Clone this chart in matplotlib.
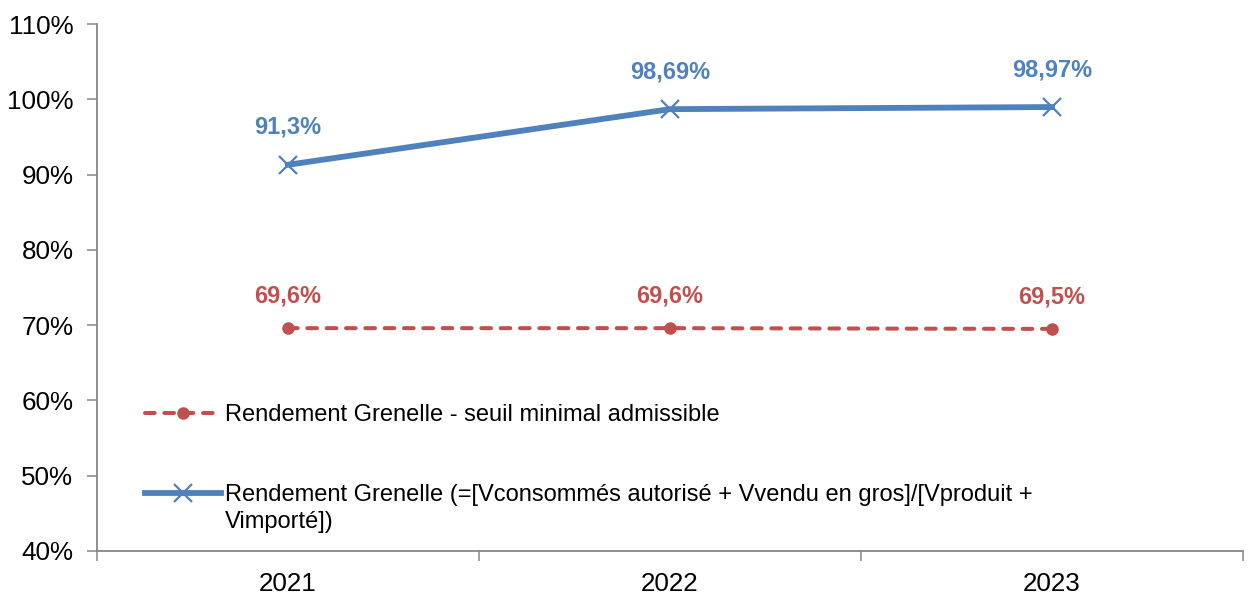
import matplotlib
matplotlib.use("Agg")
import matplotlib.pyplot as plt
from matplotlib.ticker import FixedLocator, FuncFormatter

years = ["2021", "2022", "2023"]
rendement = [91.3, 98.69, 98.97]
seuil = [69.6, 69.6, 69.5]
rendement_labels = ["91,3%", "98,69%", "98,97%"]
seuil_labels = ["69,6%", "69,6%", "69,5%"]
y_ticks = [40, 50, 60, 70, 80, 90, 100, 110]
legend_seuil = "Rendement Grenelle - seuil minimal admissible"
legend_rendement = ["Rendement Grenelle (=[Vconsommés autorisé + Vvendu en gros]/[Vproduit +",
                    "Vimporté])"]

BLUE = "#4F81BD"
RED = "#C0504D"
GREY = "#868686"

plt.rcParams["font.family"] = ["Liberation Sans", "DejaVu Sans"]

W, H = 1251, 595
fig = plt.figure(figsize=(W / 100, H / 100), dpi=100)
ax = fig.add_axes([97 / W, 44 / H, (1243 - 97) / W, (551 - 24) / H])

x = list(range(len(years)))
ax.plot(x, seuil, color=RED, lw=2.9, ls=(0, (2.4, 2.4)), dash_capstyle="round",
        marker="o", ms=8, label=legend_seuil)
ax.plot(x, rendement, color=BLUE, lw=4.2, marker="x", ms=13, mew=1.6,
        label=legend_rendement[0])

for xi, v, t in zip(x, rendement, rendement_labels):
    ax.annotate(t, (xi, v), xytext=(0, 27), textcoords="offset points",
                ha="center", va="center", color=BLUE, fontsize=17, fontweight="bold")
for xi, v, t in zip(x, seuil, seuil_labels):
    ax.annotate(t, (xi, v), xytext=(0, 23), textcoords="offset points",
                ha="center", va="center", color=RED, fontsize=17, fontweight="bold")

ax.set_xlim(-0.5, len(years) - 0.5)
ax.set_ylim(y_ticks[0], y_ticks[-1])
ax.set_xticks(x)
ax.set_xticklabels(years)
ax.xaxis.set_minor_locator(FixedLocator([i - 0.5 for i in range(len(years) + 1)]))
ax.set_yticks(y_ticks)
ax.yaxis.set_major_formatter(FuncFormatter(lambda v, p: f"{v:.0f}%"))

ax.tick_params(axis="x", which="major", length=0, pad=15, labelsize=18.7)
ax.tick_params(axis="x", which="minor", length=7, width=1.1, color=GREY, direction="out")
ax.tick_params(axis="y", length=7, width=1.1, color=GREY, pad=10, labelsize=18.7)

for side in ["top", "right"]:
    ax.spines[side].set_visible(False)
for side in ["left", "bottom"]:
    ax.spines[side].set_color(GREY)
    ax.spines[side].set_linewidth(1.3)

leg = ax.legend(loc="upper left", bbox_to_anchor=(0.042, 0.279), frameon=False, fontsize=17,
                handlelength=3.2, handletextpad=0.17, labelspacing=2.45, borderpad=0,
                borderaxespad=0)
# second line of the long label, kept under the first so the marker stays on line one
ax.annotate(legend_rendement[1], xy=(0, 0.5), xycoords=leg.get_texts()[1],
            xytext=(0, -19.4), textcoords="offset points", ha="left", va="center",
            fontsize=17, zorder=6, annotation_clip=False)

fig.savefig("out.png", dpi=100)
